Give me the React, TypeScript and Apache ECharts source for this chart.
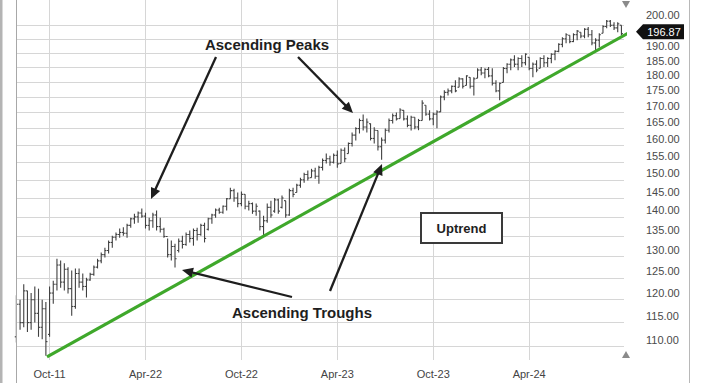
import React, { useEffect, useRef } from 'react';
import * as echarts from 'echarts';

// Weekly OHLC prices (one bar per week)
const opens = [
  112.0, 119.0, 115.0, 122.0, 115.0, 120.0, 117.0, 114.0, 118.0, 112.5,
  121.5, 123.5, 128.0, 124.0, 127.0, 122.5, 118.5, 126.0, 124.0, 123.0,
  124.5, 125.8, 127.5, 129.0, 130.5, 131.5, 133.5, 134.8, 135.5, 136.0,
  135.8, 137.8, 139.5, 140.0, 141.0, 140.2, 137.8, 139.0, 140.5, 137.5,
  136.8, 135.0, 130.5, 132.5, 131.5, 133.8, 133.0, 135.5, 134.5, 136.5,
  135.5, 137.8, 136.8, 139.5, 140.5, 141.8, 141.2, 142.8, 144.8, 147.0,
  145.0, 143.5, 146.0, 142.8, 143.5, 141.5, 141.5, 137.5, 139.0, 142.5,
  141.5, 144.5, 142.5, 144.3, 140.5, 147.0, 146.5, 148.5, 150.0, 151.5,
  150.6, 152.5, 151.0, 153.5, 155.5, 156.0, 155.0, 157.0, 154.6, 158.5,
  157.5, 160.5, 163.0, 165.0, 167.5, 165.5, 166.5, 162.0, 164.4, 159.5,
  161.5, 164.5, 167.5, 169.0, 168.1, 170.7, 168.0, 166.0, 168.5, 165.5,
  167.5, 172.3, 169.5, 168.0, 169.5, 170.2, 175.0, 176.5, 177.0, 178.5,
  178.2, 181.0, 178.8, 181.5, 178.5, 181.2, 184.0, 183.0, 184.2, 182.0,
  179.5, 177.0, 179.8, 184.5, 186.0, 187.5, 186.0, 188.0, 186.5, 188.4,
  184.5, 186.0, 184.6, 188.0, 186.5, 188.0, 189.5, 190.5, 193.0, 195.0,
  196.3, 194.0, 196.5, 197.4, 196.0, 198.5, 196.5, 193.5, 194.5, 197.0,
  199.5, 201.5, 200.0, 199.0, 200.0,
];
const highs = [
  121.0, 120.0, 123.5, 122.0, 121.5, 123.0, 122.5, 120.0, 119.5, 123.0,
  124.3, 129.5, 129.1, 128.4, 127.5, 126.7, 127.2, 127.2, 126.0, 125.0,
  126.2, 127.9, 129.5, 131.0, 132.2, 134.0, 135.2, 136.0, 137.0, 137.3,
  138.2, 139.8, 140.8, 141.4, 142.2, 141.1, 139.8, 141.1, 141.7, 139.8,
  137.2, 134.5, 134.0, 133.2, 134.5, 135.2, 136.0, 136.5, 137.0, 137.2,
  138.2, 138.5, 139.8, 140.8, 142.2, 142.4, 143.0, 145.0, 147.8, 147.5,
  146.5, 146.8, 146.0, 144.3, 143.8, 143.5, 141.7, 140.3, 143.5, 144.3,
  145.0, 144.8, 145.7, 144.3, 147.5, 147.8, 148.9, 150.6, 152.0, 152.6,
  153.1, 153.4, 154.0, 156.1, 157.5, 156.9, 157.5, 158.4, 159.0, 159.3,
  160.8, 163.8, 165.4, 168.1, 169.4, 168.1, 166.6, 165.4, 164.4, 162.3,
  165.0, 168.1, 169.7, 170.0, 171.4, 170.7, 169.1, 169.0, 168.5, 168.0,
  173.9, 172.3, 170.7, 170.0, 170.7, 175.5, 177.2, 177.8, 178.8, 180.5,
  181.5, 181.2, 182.2, 181.5, 181.5, 184.6, 185.0, 184.6, 185.0, 184.6,
  180.5, 179.8, 185.0, 186.3, 188.0, 189.1, 188.4, 189.1, 189.8, 188.4,
  186.6, 187.4, 188.4, 189.1, 188.4, 189.8, 190.9, 193.4, 195.6, 197.0,
  196.3, 197.0, 198.2, 197.4, 198.9, 199.3, 198.2, 195.2, 197.0, 200.0,
  201.9, 201.9, 201.1, 201.1, 200.0,
];
const lows = [
  110.8, 113.5, 114.0, 113.0, 113.5, 115.0, 112.0, 111.5, 108.1, 112.0,
  119.1, 122.1, 122.7, 122.1, 121.4, 116.5, 118.0, 122.7, 122.1, 120.5,
  124.3, 125.5, 127.2, 128.4, 129.8, 130.8, 132.2, 134.0, 134.7, 135.2,
  134.7, 137.2, 138.2, 138.5, 139.8, 137.0, 136.5, 137.2, 136.5, 136.0,
  134.7, 129.8, 129.1, 127.4, 131.0, 132.0, 132.7, 133.5, 132.7, 134.0,
  135.2, 133.5, 136.5, 138.2, 139.8, 140.8, 140.8, 141.7, 144.8, 144.0,
  142.5, 142.8, 142.0, 141.7, 140.8, 140.3, 136.5, 135.2, 138.5, 139.8,
  141.1, 140.8, 142.2, 139.8, 140.3, 145.2, 146.5, 147.8, 149.2, 149.8,
  150.6, 150.3, 148.9, 152.6, 154.6, 154.0, 154.6, 153.4, 154.6, 155.0,
  157.5, 159.6, 161.4, 163.5, 164.4, 163.8, 161.4, 160.5, 158.4, 155.7,
  160.5, 163.8, 166.6, 167.5, 168.1, 167.5, 165.4, 164.4, 164.8, 164.5,
  167.5, 169.0, 167.5, 166.0, 165.1, 170.2, 173.9, 175.5, 176.2, 176.5,
  178.2, 177.8, 178.8, 177.8, 175.5, 181.2, 182.2, 181.2, 181.5, 178.8,
  176.5, 173.9, 179.8, 182.9, 183.9, 185.0, 183.9, 185.0, 185.6, 183.9,
  181.5, 183.2, 184.6, 185.0, 185.0, 186.3, 187.4, 190.2, 192.0, 193.4,
  193.4, 193.8, 194.5, 195.2, 195.2, 195.6, 192.7, 190.9, 192.0, 197.0,
  198.9, 199.3, 198.2, 197.4, 196.3,
];
const closes = [
  119.0, 115.0, 122.0, 115.0, 120.0, 117.0, 114.0, 118.0, 111.0, 121.5,
  123.5, 128.0, 124.0, 127.0, 122.5, 118.5, 126.0, 124.0, 123.0, 124.5,
  125.8, 127.5, 129.0, 130.5, 131.5, 133.5, 134.8, 135.5, 136.0, 135.8,
  137.8, 139.5, 140.0, 141.0, 140.2, 137.8, 139.0, 140.5, 137.5, 136.8,
  135.0, 130.5, 132.5, 129.5, 133.8, 133.0, 135.5, 134.5, 136.5, 135.5,
  137.8, 134.5, 139.5, 140.5, 141.8, 141.2, 142.8, 144.8, 147.0, 145.0,
  143.5, 146.0, 142.8, 143.5, 141.5, 142.8, 137.5, 139.0, 142.5, 140.5,
  144.5, 141.5, 145.0, 140.5, 147.0, 146.0, 148.5, 150.0, 151.5, 150.5,
  152.5, 151.0, 153.5, 155.5, 156.0, 155.0, 157.0, 154.5, 158.5, 156.0,
  160.5, 163.0, 165.0, 167.5, 165.5, 167.0, 162.0, 164.5, 159.5, 161.5,
  164.5, 167.5, 169.0, 168.0, 170.8, 168.0, 166.0, 168.5, 165.5, 167.5,
  173.0, 169.5, 168.0, 169.5, 170.2, 175.0, 176.5, 177.0, 178.5, 177.0,
  181.0, 178.5, 182.0, 178.5, 181.0, 184.0, 183.0, 184.2, 182.0, 179.5,
  177.0, 179.5, 184.5, 186.0, 187.5, 186.0, 188.0, 186.5, 189.5, 184.5,
  186.0, 184.0, 188.0, 186.5, 188.0, 189.5, 190.5, 193.0, 195.0, 196.5,
  194.0, 196.5, 197.8, 196.0, 198.5, 196.5, 193.5, 194.5, 196.5, 199.5,
  201.5, 200.0, 199.0, 200.5, 196.87,
];

// x axis: week index of the first bar of the labelled months
const xTickWeeks = [9, 35, 61, 87, 113, 139];
const xTickLabels = ['Oct-11', 'Apr-22', 'Oct-22', 'Apr-23', 'Oct-23', 'Apr-24'];
// y axis (log scale) grid values and the labels shown (195 sits under the price tag)
const yTicks = [110, 115, 120, 125, 130, 135, 140, 145, 150, 155, 160, 165, 170, 175, 180, 185, 190, 195, 200];
const yLabelTicks = [110, 115, 120, 125, 130, 135, 140, 145, 150, 155, 160, 165, 170, 175, 180, 185, 190, 200];
// trend line anchors: [week index, price]
const trendStart = [8.3, 107.9];
const trendEnd = [166.9, 197.9];
const lastPrice = 196.87;

const L = (v: number) => Math.log10(v);
const FONT = '"Liberation Sans", Arial, Helvetica, sans-serif';

function arrow(x1: number, y1: number, x2: number, y2: number) {
  const dx = x2 - x1, dy = y2 - y1;
  const len = Math.hypot(dx, dy);
  const ux = dx / len, uy = dy / len;
  const hl = 11, hw = 5;
  const bx = x2 - ux * hl, by = y2 - uy * hl;
  const px = -uy, py = ux;
  return [
    { type: 'line', z: 100, shape: { x1, y1, x2: bx + ux * 2, y2: by + uy * 2 }, style: { stroke: '#1e1e1e', lineWidth: 2.3 } },
    {
      type: 'polygon', z: 100,
      shape: { points: [[x2, y2], [bx + px * hw, by + py * hw], [bx - px * hw, by - py * hw]] },
      style: { fill: '#1e1e1e' },
    },
  ];
}

export default function App() {
  const ref = useRef<HTMLDivElement>(null);
  useEffect(() => {
    document.body.style.margin = '0';
    if (!ref.current) return;
    const chart = echarts.init(ref.current, undefined, { renderer: 'svg' });
    const ohlc = opens.map((o, i) => [i, L(o), L(highs[i]), L(lows[i]), L(closes[i])]);
    chart.setOption({
      animation: false,
      backgroundColor: '#ffffff',
      grid: { left: 16, right: 96, top: 0, bottom: 23 },
      xAxis: {
        type: 'value',
        min: -0.1,
        max: 164.7,
        axisLine: { show: false },
        axisTick: { show: false, customValues: xTickWeeks },
        axisLabel: {
          customValues: xTickWeeks,
          formatter: (v: number) => xTickLabels[xTickWeeks.indexOf(Math.round(v))] ?? '',
          color: '#444',
          fontSize: 11,
          fontFamily: FONT,
          margin: 8,
        },
        splitLine: { show: true, lineStyle: { color: '#d6d6d6', width: 1 } },
      },
      yAxis: {
        type: 'value',
        position: 'right',
        min: L(107.27),
        max: L(209.6),
        axisLine: { show: false },
        axisTick: { show: false, customValues: yTicks.map(L) },
        axisLabel: {
          customValues: yLabelTicks.map(L),
          formatter: (v: number) => {
            const p = Math.pow(10, v);
            const s = p.toFixed(2);
            return Math.round(p) === yLabelTicks[yLabelTicks.length - 1] ? '{top|' + s + '}' : s;
          },
          color: '#4a4a4a',
          fontSize: 11,
          fontFamily: FONT,
          margin: 22,
          padding: [0, 0, 13, 0],
          rich: {
            top: { fontSize: 11, fontFamily: FONT, color: '#4a4a4a', padding: [0, 0, 7, 0] },
          },
        },
        splitLine: { show: true, lineStyle: { color: '#d6d6d6', width: 1 } },
      },
      series: [
        {
          type: 'custom',
          data: ohlc,
          encode: { x: 0, y: [1, 2, 3, 4] },
          z: 2,
          renderItem: (params: any, api: any) => {
            const x = api.value(0);
            const pO = api.coord([x, api.value(1)]);
            const pH = api.coord([x, api.value(2)]);
            const pL = api.coord([x, api.value(3)]);
            const pC = api.coord([x, api.value(4)]);
            const st = { stroke: '#404040', lineWidth: 1.1 };
            return {
              type: 'group',
              children: [
                { type: 'line', shape: { x1: pH[0], y1: pH[1], x2: pL[0], y2: pL[1] }, style: st },
                { type: 'line', shape: { x1: pO[0] - 1.6, y1: pO[1], x2: pO[0], y2: pO[1] }, style: st },
                { type: 'line', shape: { x1: pC[0], y1: pC[1], x2: pC[0] + 1.6, y2: pC[1] }, style: st },
              ],
            };
          },
        },
        {
          type: 'line',
          data: [[trendStart[0], L(trendStart[1])], [trendEnd[0], L(trendEnd[1])]],
          symbol: 'none',
          clip: false,
          z: 5,
          lineStyle: { color: '#3fa82b', width: 3.2 },
        },
      ],
    });

    const yp = (chart.convertToPixel({ yAxisIndex: 0 }, L(lastPrice)) as number) - 2;
    const graphics: any[] = [
      // frame lines
      { type: 'rect', z: 90, shape: { x: 0, y: 0, width: 2.5, height: 383 }, style: { fill: '#b4b4b4' } },
      { type: 'line', z: 90, shape: { x1: 16.5, y1: 0, x2: 16.5, y2: 383 }, style: { stroke: '#a8a8a8', lineWidth: 1 } },
      { type: 'line', z: 90, shape: { x1: 689.5, y1: 0, x2: 689.5, y2: 383 }, style: { stroke: '#b8b8b8', lineWidth: 1 } },
      // scroll triangles
      { type: 'polygon', z: 90, shape: { points: [[622, 1], [630, 1], [626, 8]] }, style: { fill: '#8a8a8a' } },
      { type: 'polygon', z: 90, shape: { points: [[622, 358], [630, 358], [626, 351]] }, style: { fill: '#8a8a8a' } },
      // last price tag
      {
        type: 'polygon', z: 110,
        shape: { points: [[636, yp], [643, yp - 7.5], [684, yp - 7.5], [684, yp + 7.5], [643, yp + 7.5]] },
        style: { fill: '#111111' },
      },
      {
        type: 'text', z: 111, x: 664, y: yp,
        style: { text: lastPrice.toFixed(2), fill: '#ffffff', fontSize: 11, fontFamily: FONT, align: 'center', verticalAlign: 'middle' },
      },
      // annotations
      {
        type: 'text', z: 100, x: 267, y: 44,
        style: { text: 'Ascending Peaks', fill: '#1e1e1e', fontSize: 15, fontWeight: 'bold', fontFamily: FONT, align: 'center', verticalAlign: 'middle' },
      },
      {
        type: 'text', z: 100, x: 302, y: 312,
        style: { text: 'Ascending Troughs', fill: '#1e1e1e', fontSize: 15, fontWeight: 'bold', fontFamily: FONT, align: 'center', verticalAlign: 'middle' },
      },
      ...arrow(216, 57, 151, 199),
      ...arrow(298, 57, 353, 113),
      ...arrow(292, 297, 182, 270),
      ...arrow(330, 291, 382, 164),
      { type: 'rect', z: 100, shape: { x: 421, y: 213, width: 81, height: 30 }, style: { fill: '#ffffff', stroke: '#3a3a3a', lineWidth: 2 } },
      {
        type: 'text', z: 101, x: 461.5, y: 228,
        style: { text: 'Uptrend', fill: '#1e1e1e', fontSize: 13, fontWeight: 'bold', fontFamily: FONT, align: 'center', verticalAlign: 'middle' },
      },
    ];
    chart.setOption({ graphic: graphics });
    return () => chart.dispose();
  }, []);
  return <div ref={ref} style={{ width: 720, height: 383 }} />;
}
